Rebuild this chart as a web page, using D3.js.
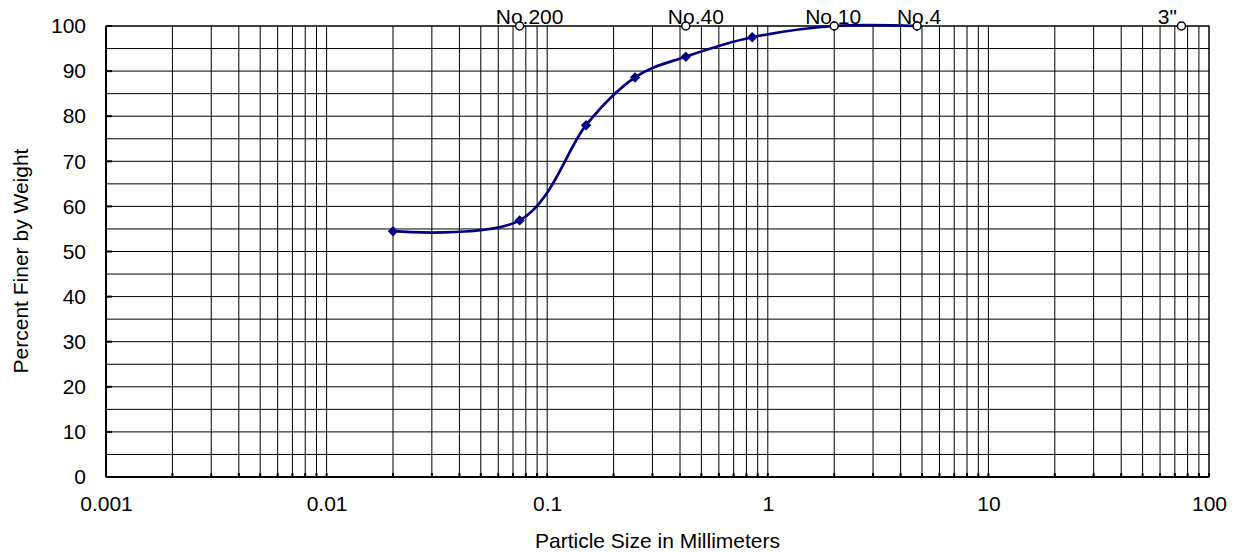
<!DOCTYPE html>
<html>

<head>
    <title>Grain Size Distribution</title>
    <script src="https://d3js.org/d3.v7.min.js"></script>
    <style>
        body { margin: 0; background: #fff; }
        text { font-family: "Liberation Sans", Arial, sans-serif; }
    </style>
</head>

<body>

    <svg width="1238" height="552" id="mainSvg" class="svgs"></svg>
    <script>
        // sample results (particle size in mm, percent finer)
        const sizes = [0.02, 0.075, 0.15, 0.25, 0.425, 0.85, 2.0, 4.75];
        const finer = [54.5, 56.9, 78.0, 88.6, 93.2, 97.5, 100, 100];

        // sieve reference markers along the top
        const sieveNames = ["No.200", "No.40", "No.10", "No.4", "3\""];
        const sieveSizes = [0.075, 0.425, 2.0, 4.75, 75];
        const sievePercent = [100, 100, 100, 100, 100];

        const xTickValues = [0.001, 0.01, 0.1, 1, 10, 100];
        const xTickLabels = ["0.001", "0.01", "0.1", "1", "10", "100"];
        const yTickValues = [0, 10, 20, 30, 40, 50, 60, 70, 80, 90, 100];

        // label nudges, px (Excel placed these a bit off-centre)
        const labelNudge = [10, 10, -1, 2, -14];

        let mainSvg = d3.select('.svgs');
        const margin = { top: 26, right: 29, bottom: 75, left: 106 };
        const mainWidth = +mainSvg.attr("width");
        const mainHeight = +mainSvg.attr("height");
        const innerWidth = mainWidth - margin.left - margin.right;
        const innerHeight = mainHeight - margin.top - margin.bottom;

        const g = mainSvg.append("g")
            .attr("transform", `translate(${margin.left}, ${margin.top})`);

        const xScale = d3.scaleLog()
            .domain([0.001, 100])
            .range([0, innerWidth]);
        const yScale = d3.scaleLinear()
            .domain([0, 100])
            .range([innerHeight, 0]);

        // grid: every 1..9 of each decade, every 5 percent
        g.append("g").selectAll("line")
            .data(xScale.ticks())
            .join("line")
            .attr("x1", d => xScale(d)).attr("x2", d => xScale(d))
            .attr("y1", 0).attr("y2", innerHeight)
            .attr("stroke", "#000").attr("stroke-width", 1);
        g.append("g").selectAll("line")
            .data(d3.range(0, 101, 5))
            .join("line")
            .attr("x1", 0).attr("x2", innerWidth)
            .attr("y1", d => yScale(d)).attr("y2", d => yScale(d))
            .attr("stroke", "#000").attr("stroke-width", 1);

        // frame
        g.append("rect")
            .attr("width", innerWidth).attr("height", innerHeight)
            .attr("fill", "none").attr("stroke", "#000").attr("stroke-width", 1);
        g.append("line")
            .attr("x1", 0).attr("x2", 0).attr("y1", 0).attr("y2", innerHeight)
            .attr("stroke", "#000").attr("stroke-width", 2);
        g.append("line")
            .attr("x1", 0).attr("x2", innerWidth).attr("y1", innerHeight).attr("y2", innerHeight)
            .attr("stroke", "#000").attr("stroke-width", 2);

        // inner tick marks
        g.append("g").selectAll("line")
            .data(yTickValues)
            .join("line")
            .attr("x1", 0).attr("x2", 6)
            .attr("y1", d => yScale(d)).attr("y2", d => yScale(d))
            .attr("stroke", "#000").attr("stroke-width", 2);
        g.append("g").selectAll("line")
            .data(xScale.ticks())
            .join("line")
            .attr("x1", d => xScale(d)).attr("x2", d => xScale(d))
            .attr("y1", innerHeight).attr("y2", innerHeight - 4)
            .attr("stroke", "#000").attr("stroke-width", 2);

        // axes (labels only)
        const xAxis = d3.axisBottom(xScale)
            .tickValues(xTickValues)
            .tickFormat((d, i) => xTickLabels[i])
            .tickSize(0)
            .tickPadding(19);
        const yAxis = d3.axisLeft(yScale)
            .tickValues(yTickValues)
            .tickFormat(d3.format("d"))
            .tickSize(0)
            .tickPadding(20);

        const xAxisGroup = g.append("g")
            .attr("transform", `translate(0, ${innerHeight})`)
            .call(xAxis);
        const yAxisGroup = g.append("g").call(yAxis);
        [xAxisGroup, yAxisGroup].forEach(ax => {
            ax.select(".domain").remove();
            ax.attr("font-family", "Liberation Sans, Arial, sans-serif")
                .attr("font-size", 21);
            ax.selectAll("text").attr("fill", "#000");
        });

        // axis titles
        mainSvg.append("text")
            .attr("x", margin.left + innerWidth / 2)
            .attr("y", 548)
            .attr("text-anchor", "middle")
            .attr("font-size", 21)
            .text("Particle Size in Millimeters");
        mainSvg.append("text")
            .attr("transform", "translate(28, 261) rotate(-90)")
            .attr("text-anchor", "middle")
            .attr("font-size", 21)
            .text("Percent Finer by Weight");

        // gradation curve
        const points = sizes.map((s, i) => [s, finer[i]]);
        const line = d3.line()
            .x(d => xScale(d[0]))
            .y(d => yScale(d[1]))
            .curve(d3.curveCardinal.tension(0));
        g.append("path")
            .datum(points)
            .attr("d", line)
            .attr("fill", "none")
            .attr("stroke", "#000080")
            .attr("stroke-width", 2.7);

        g.append("g").selectAll("path")
            .data(points)
            .join("path")
            .attr("d", d3.symbol(d3.symbolDiamond2, 70))
            .attr("transform", d => `translate(${xScale(d[0])}, ${yScale(d[1])})`)
            .attr("fill", "#000080");

        // sieve markers + labels
        const sieves = sieveNames.map((n, i) => ({ name: n, size: sieveSizes[i], pct: sievePercent[i], dx: labelNudge[i] }));
        g.append("g").selectAll("text")
            .data(sieves)
            .join("text")
            .attr("x", d => xScale(d.size) + d.dx)
            .attr("y", d => yScale(d.pct) - 2)
            .attr("text-anchor", "middle")
            .attr("font-size", 21)
            .text(d => d.name);
        g.append("g").selectAll("circle")
            .data(sieves)
            .join("circle")
            .attr("cx", d => xScale(d.size))
            .attr("cy", d => yScale(d.pct))
            .attr("r", 4)
            .attr("fill", "#fff")
            .attr("stroke", "#000")
            .attr("stroke-width", 1.5);
    </script>
</body>

</html>
